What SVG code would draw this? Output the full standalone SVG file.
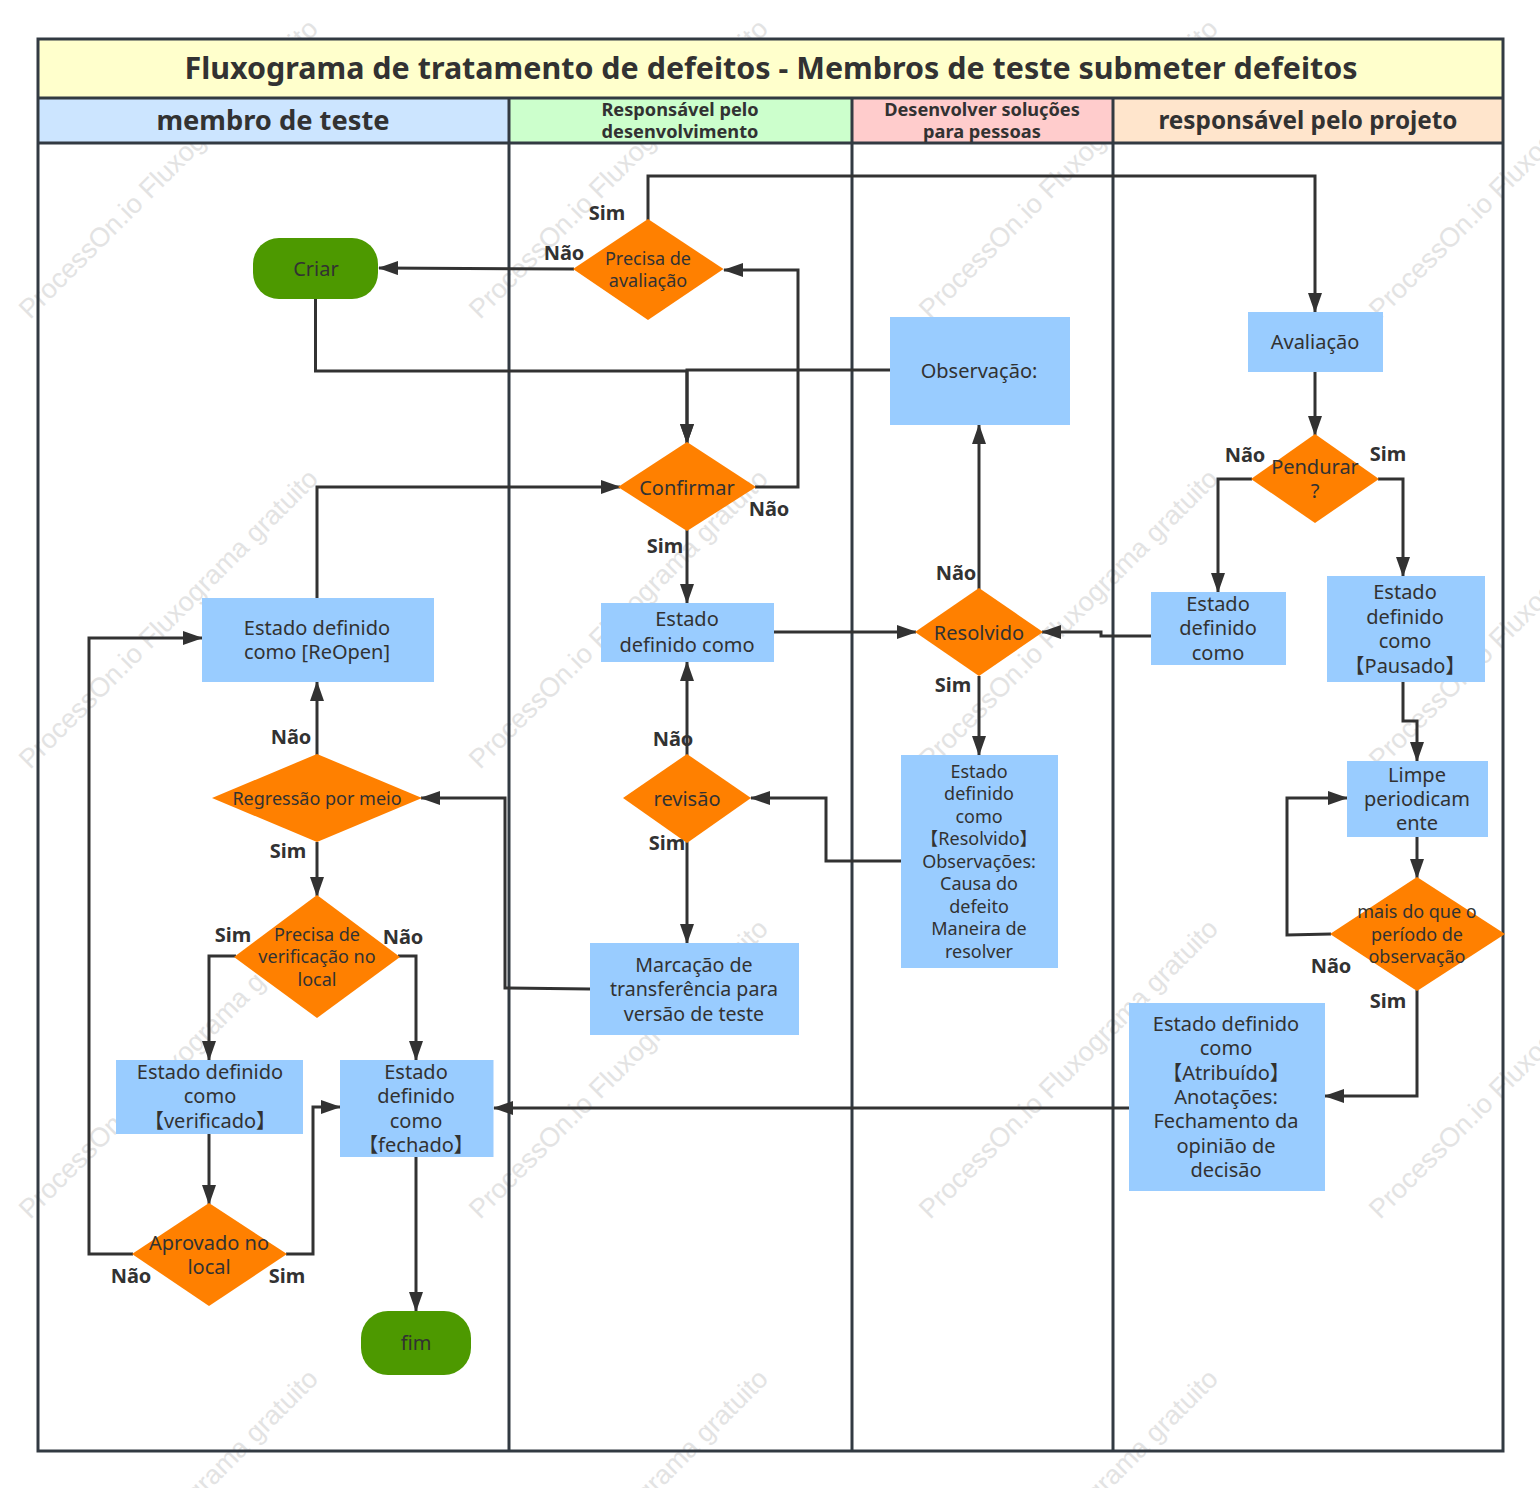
<svg xmlns="http://www.w3.org/2000/svg" width="1540" height="1488" viewBox="0 0 1540 1488">
<style>
text{font-family:"Noto Sans","Open Sans","Noto Sans CJK SC",sans-serif;fill:#323232;text-anchor:middle}
.wm{font-family:"Liberation Sans",sans-serif;font-size:27px;fill:#e3e3e3;text-anchor:start}
.n{font-size:20px}
.s{font-size:18px}
.l{font-size:20px;font-weight:700}
.h{font-size:27.3px;font-weight:700}
.h2{font-size:18.2px;font-weight:700}
.b{fill:#99ccff}
.d{fill:#ff8000}
.g{fill:#4d9900}
.lane{fill:none;stroke:#323a42;stroke-width:3}
.c{fill:none;stroke:#323232;stroke-width:3;stroke-linejoin:miter;marker-end:url(#a)}
</style>
<defs>
<marker id="a" markerUnits="userSpaceOnUse" markerWidth="20" markerHeight="14" refX="19" refY="7" orient="auto"><path d="M0 0L20 7L0 14Z" fill="#323232"/></marker>
<g id="w"><text class="wm" transform="rotate(-45 30 320)" x="30" y="320">ProcessOn.io Fluxograma gratuito</text></g>
</defs>
<rect width="1540" height="1488" fill="#fff"/>
<g id="watermark">
<use href="#w"/><use href="#w" x="450"/><use href="#w" x="900"/><use href="#w" x="1350"/>
<use href="#w" y="450"/><use href="#w" x="450" y="450"/><use href="#w" x="900" y="450"/><use href="#w" x="1350" y="450"/>
<use href="#w" y="900"/><use href="#w" x="450" y="900"/><use href="#w" x="900" y="900"/><use href="#w" x="1350" y="900"/>
<use href="#w" y="1350"/><use href="#w" x="450" y="1350"/><use href="#w" x="900" y="1350"/><use href="#w" x="1350" y="1350"/>
</g>
<g id="lanes">
<rect x="38" y="39" width="1465" height="59" fill="#ffffcc"/>
<rect x="38" y="98" width="471" height="45" fill="#cce5ff"/>
<rect x="509" y="98" width="343" height="45" fill="#ccffcc"/>
<rect x="852" y="98" width="261" height="45" fill="#ffcccc"/>
<rect x="1113" y="98" width="390" height="45" fill="#ffe5cc"/>
<path class="lane" d="M38 39H1503V1451H38ZM38 98H1503M38 143H1503M509 98V1451M852 98V1451M1113 98V1451"/>
<text x="771" y="79" class="h" style="font-size:30.45px">Fluxograma de tratamento de defeitos - Membros de teste submeter defeitos</text>
<text x="273" y="130" class="h">membro de teste</text>
<text x="680" y="116" class="h2">Responsável pelo</text>
<text x="680" y="138" class="h2">desenvolvimento</text>
<text x="982" y="116" class="h2">Desenvolver soluções</text>
<text x="982" y="138" class="h2">para pessoas</text>
<text x="1308" y="129" class="h" style="font-size:24.3px">responsável pelo projeto</text>
</g>
<g id="connectors">
<path class="c" d="M574 269L379 268"/>
<path class="c" d="M648 220V176H1315V312"/>
<path class="c" d="M755 487L798 487V270H724"/>
<path class="c" d="M315.500 298V371H687V443"/>
<path class="c" d="M890 370H687V443"/>
<path class="c" d="M317 598V487H620"/>
<path class="c" d="M687 530V603"/>
<path class="c" d="M774 632H916"/>
<path class="c" d="M979 590V425"/>
<path class="c" d="M979 676V755"/>
<path class="c" d="M1151 636H1101V632H1042"/>
<path class="c" d="M1315 372V435"/>
<path class="c" d="M1252 479H1218V592"/>
<path class="c" d="M1378 479H1403V576"/>
<path class="c" d="M1403 682V721H1417V761"/>
<path class="c" d="M1417 837V878"/>
<path class="c" d="M1331 934L1287 935V798H1347"/>
<path class="c" d="M1417 990V1096H1325"/>
<path class="c" d="M1129 1108H494"/>
<path class="c" d="M901 861H826V798H751"/>
<path class="c" d="M687 756V662"/>
<path class="c" d="M687 842V943"/>
<path class="c" d="M590 989L505 988V798H421"/>
<path class="c" d="M317 755V682"/>
<path class="c" d="M317 842V896"/>
<path class="c" d="M236 956H209V1060"/>
<path class="c" d="M398 956H416V1060"/>
<path class="c" d="M209 1134V1204"/>
<path class="c" d="M133 1254H89V638H202"/>
<path class="c" d="M286 1254H313V1107H340"/>
<path class="c" d="M416 1157V1311"/>
</g>
<g id="n-criar"><rect class="g" x="253" y="238" width="125" height="61" rx="26"/><text class="n" x="316" y="276">Criar</text></g>
<g id="n-aval"><path class="d" d="M648 219L723.500 269L648 320L573 269Z"/><text class="s" x="648" y="265">Precisa de</text><text class="s" x="648" y="287">avaliação</text></g>
<g id="n-obs"><rect class="b" x="890" y="317" width="180" height="108"/><text class="n" x="979" y="378">Observação:</text></g>
<g id="n-avaliacao"><rect class="b" x="1248" y="312" width="135" height="60"/><text class="n" x="1315" y="349">Avaliação</text></g>
<g id="n-conf"><path class="d" d="M687 442L756 487L687 531L618 487Z"/><text class="n" x="687" y="495">Confirmar</text></g>
<g id="n-pend"><path class="d" d="M1315 434L1379 479L1315 523L1251 479Z"/><text class="n" x="1315" y="474">Pendurar</text><text class="n" x="1315" y="498">?</text></g>
<g id="n-reopen"><rect class="b" x="202" y="598" width="232" height="84"/><text class="n" x="317" y="635">Estado definido</text><text class="n" x="317" y="659">como [ReOpen]</text></g>
<g id="n-def1"><rect class="b" x="601" y="603" width="173" height="59"/><text class="n" x="687" y="626">Estado</text><text class="n" x="687" y="652">definido como</text></g>
<g id="n-res"><path class="d" d="M979 588L1043 632L979 676L915 632Z"/><text class="n" x="979" y="640">Resolvido</text></g>
<g id="n-def2"><rect class="b" x="1151" y="592" width="135" height="73"/><text class="n" x="1218" y="611">Estado</text><text class="n" x="1218" y="635">definido</text><text class="n" x="1218" y="660">como</text></g>
<g id="n-paus"><rect class="b" x="1327" y="576" width="158" height="106"/><text class="n" x="1405" y="599">Estado</text><text class="n" x="1405" y="624">definido</text><text class="n" x="1405" y="648">como</text><text class="n" x="1405" y="673">【Pausado】</text></g>
<g id="n-limpe"><rect class="b" x="1347" y="761" width="141" height="76"/><text class="n" x="1417" y="782">Limpe</text><text class="n" x="1417" y="806">periodicam</text><text class="n" x="1417" y="830">ente</text></g>
<g id="n-regr"><path class="d" d="M317 754L422 798L317 842L212 798Z"/><text class="s" x="317" y="805">Regressão por meio</text></g>
<g id="n-rev"><path class="d" d="M687 754L751 798L687 843L623 798Z"/><text class="n" x="687" y="806">revisão</text></g>
<g id="n-resv"><rect class="b" x="901" y="755" width="157" height="213"/><text class="s" x="979" y="778">Estado</text><text class="s" x="979" y="800">definido</text><text class="s" x="979" y="823">como</text><text class="s" x="979" y="845">【Resolvido】</text><text class="s" x="979" y="868">Observações:</text><text class="s" x="979" y="890">Causa do</text><text class="s" x="979" y="913">defeito</text><text class="s" x="979" y="935">Maneira de</text><text class="s" x="979" y="958">resolver</text></g>
<g id="n-mais"><path class="d" d="M1417 877L1505 934L1417 991L1330 934Z"/><text class="s" x="1417" y="918">mais do que o</text><text class="s" x="1417" y="941">período de</text><text class="s" x="1417" y="963">observação</text></g>
<g id="n-verif"><path class="d" d="M317 895L400 957L317 1018L234 957Z"/><text class="s" x="317" y="941">Precisa de</text><text class="s" x="317" y="963">verificação no</text><text class="s" x="317" y="986">local</text></g>
<g id="n-marc"><rect class="b" x="590" y="943" width="209" height="92"/><text class="n" x="694" y="972" style="font-size:19.6px">Marcação de</text><text class="n" x="694" y="996" style="font-size:19.6px">transferência para</text><text class="n" x="694" y="1021" style="font-size:19.6px">versão de teste</text></g>
<g id="n-verificado"><rect class="b" x="116" y="1060" width="187" height="74"/><text class="n" x="210" y="1079">Estado definido</text><text class="n" x="210" y="1103">como</text><text class="n" x="210" y="1128">【verificado】</text></g>
<g id="n-fech"><rect class="b" x="340" y="1060" width="153.500" height="97"/><text class="n" x="416" y="1079">Estado</text><text class="n" x="416" y="1103">definido</text><text class="n" x="416" y="1128">como</text><text class="n" x="416" y="1152">【fechado】</text></g>
<g id="n-atrib"><rect class="b" x="1129" y="1003" width="196" height="188"/><text class="n" x="1226" y="1031">Estado definido</text><text class="n" x="1226" y="1055">como</text><text class="n" x="1226" y="1080">【Atribuído】</text><text class="n" x="1226" y="1104">Anotações:</text><text class="n" x="1226" y="1128">Fechamento da</text><text class="n" x="1226" y="1153">opinião de</text><text class="n" x="1226" y="1177">decisão</text></g>
<g id="n-aprov"><path class="d" d="M209 1203L287 1254L209 1306L132 1254Z"/><text class="n" x="209" y="1250">Aprovado no</text><text class="n" x="209" y="1274">local</text></g>
<g id="n-fim"><rect class="g" x="361" y="1311" width="110" height="64" rx="27"/><text class="n" x="416" y="1350">fim</text></g>
<g id="labels">
<text class="l" x="607" y="220">Sim</text><text class="l" x="564" y="260">Não</text>
<text class="l" x="769" y="516">Não</text><text class="l" x="665" y="553">Sim</text>
<text class="l" x="1245" y="462">Não</text><text class="l" x="1388" y="461">Sim</text>
<text class="l" x="956" y="580">Não</text><text class="l" x="953" y="692">Sim</text>
<text class="l" x="673" y="746">Não</text><text class="l" x="667" y="850">Sim</text>
<text class="l" x="291" y="744">Não</text><text class="l" x="288" y="858">Sim</text>
<text class="l" x="233" y="942">Sim</text><text class="l" x="403" y="944">Não</text>
<text class="l" x="1331" y="973">Não</text><text class="l" x="1388" y="1008">Sim</text>
<text class="l" x="131" y="1283">Não</text><text class="l" x="287" y="1283">Sim</text>
</g>
</svg>
